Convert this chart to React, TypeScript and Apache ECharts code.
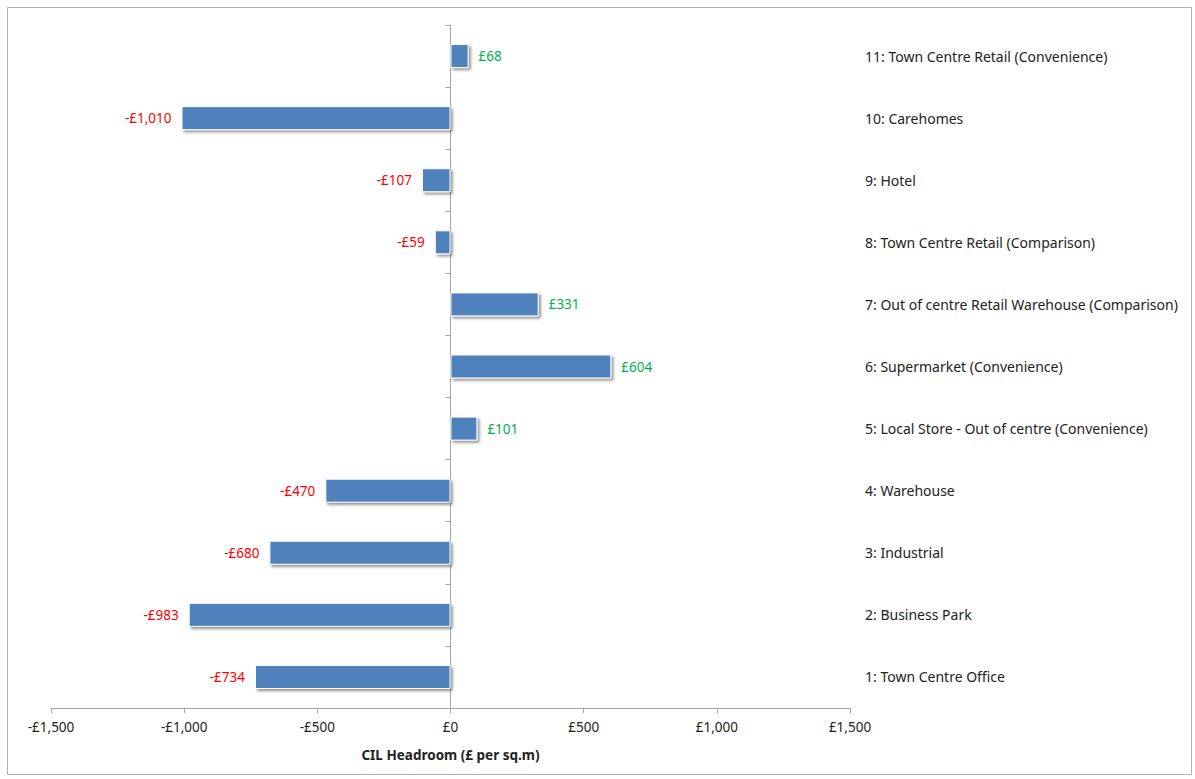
import React, { useEffect, useRef } from "react";
import * as echarts from "echarts";

const categories = [
  "1: Town Centre Office",
  "2: Business Park",
  "3: Industrial",
  "4: Warehouse",
  "5: Local Store - Out of centre (Convenience)",
  "6: Supermarket (Convenience)",
  "7: Out of centre Retail Warehouse (Comparison)",
  "8: Town Centre Retail (Comparison)",
  "9: Hotel",
  "10: Carehomes",
  "11: Town Centre Retail (Convenience)",
];
const headroom = [-734, -983, -680, -470, 101, 604, 331, -59, -107, -1010, 68];
const xTicks = [-1500, -1000, -500, 0, 500, 1000, 1500];

const fmt = (v: number) => {
  const s = Math.abs(v).toString().replace(/\B(?=(\d{3})+(?!\d))/g, ",");
  return (v < 0 ? "-£" : "£") + s;
};

const FONT = "'Noto Sans', sans-serif";

export default function App() {
  const ref = useRef<HTMLDivElement>(null);
  useEffect(() => {
    if (!ref.current) return;
    const chart = echarts.init(ref.current, undefined, { renderer: "svg" });
    chart.setOption({
      animation: false,
      backgroundColor: "#fff",
      graphic: [
        {
          type: "rect",
          shape: { x: 7.5, y: 7.5, width: 1184, height: 767 },
          style: { fill: "none", stroke: "#b0b0b0", lineWidth: 1 },
          silent: true,
        },
      ],
      grid: { left: 51, right: 345, top: 25, bottom: 71, containLabel: false },
      xAxis: {
        type: "value",
        min: xTicks[0],
        max: xTicks[xTicks.length - 1],
        interval: 500,
        splitLine: { show: false },
        axisLine: { show: true, onZero: false, lineStyle: { color: "#a6a6a6", width: 1 } },
        axisTick: { show: true, length: 5, lineStyle: { color: "#a6a6a6" } },
        axisLabel: {
          formatter: (v: number) => fmt(v),
          color: "#222",
          fontFamily: FONT,
          fontSize: 13.5,
          margin: 12,
        },
        name: "CIL Headroom (£ per sq.m)",
        nameLocation: "middle",
        nameGap: 40,
        nameTextStyle: { fontFamily: FONT, fontSize: 13.5, fontWeight: "bold", color: "#222" },
      },
      yAxis: [
        {
          type: "category",
          data: categories,
          position: "left",
          axisLine: { show: true, onZero: true, lineStyle: { color: "#a6a6a6", width: 1 } },
          axisTick: { show: true, length: 5, lineStyle: { color: "#a6a6a6" } },
          axisLabel: { show: false },
          splitLine: { show: false },
        },
        {
          type: "category",
          data: categories,
          position: "right",
          axisLine: { show: false },
          axisTick: { show: false },
          axisLabel: {
            show: true,
            color: "#222",
            fontFamily: FONT,
            fontSize: 14,
            margin: 15,
          },
          splitLine: { show: false },
        },
      ],
      series: [
        {
          type: "bar",
          yAxisIndex: 0,
          barWidth: 24,
          data: headroom.map((v) => ({
            value: v,
            label: {
              show: true,
              position: v < 0 ? "left" : "right",
              distance: 10,
              color: v < 0 ? "#ff0000" : "#00b050",
              formatter: () => fmt(v),
              fontFamily: FONT,
              fontSize: 13.5,
            },
          })),
          itemStyle: {
            color: "#4f81bd",
            borderColor: "#ffffff",
            borderWidth: 1,
            shadowColor: "rgba(0,0,0,0.45)",
            shadowBlur: 3,
            shadowOffsetX: 2,
            shadowOffsetY: 2,
          },
        },
      ],
    });
    return () => chart.dispose();
  }, []);
  return (
    <div
      ref={ref}
      style={{ position: "fixed", left: 0, top: 0, width: 1195, height: 779 }}
    />
  );
}
